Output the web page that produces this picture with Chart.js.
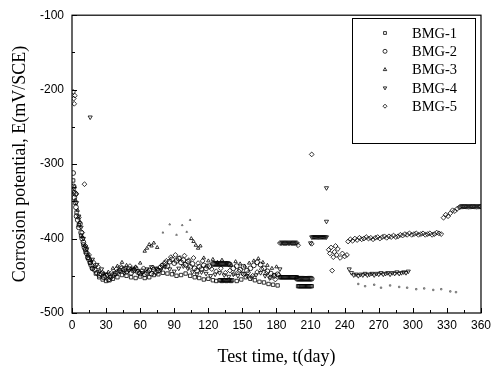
<!DOCTYPE html>
<html>
<head>
<meta charset="utf-8">
<script src="https://cdn.jsdelivr.net/npm/chart.js"></script>
<style>
  body { margin: 0; background: #fff; }
  #chart { display: block; }
</style>
</head>
<body>
<canvas id="chart" width="496" height="374"></canvas>
<script>
// series: [day, potential mV]
const seriesNames = ['BMG-1', 'BMG-2', 'BMG-3', 'BMG-4', 'BMG-5'];

const bmg1 = [
  [1,-322],[2,-338],[3,-352],[4,-365],[6,-382],[8,-396],[10,-408],[12,-418],[14,-426],[16,-433],[18,-440],[21,-447],[24,-452],[27,-455],[30,-457],[33,-456],[36,-454],[40,-452],[44,-449],[48,-450],[52,-452],[56,-453],[60,-451],[64,-453],[68,-452],[72,-449],[76,-448],[80,-446],[84,-447],[88,-448],[92,-450],[96,-449],[100,-447],[104,-450],[108,-452],[112,-453],[116,-455],[120,-454],[124,-456],[127,-457],
  [130,-456],[131,-456],[132,-457],[133,-456],[134,-456],[135,-456],[136,-457],[137,-456],[138,-456],[139,-456],[140,-457],[141,-456],
  [145,-457],[149,-455],[153,-452],[157,-454],[161,-456],[165,-458],[169,-459],[173,-461],[177,-462],[181,-463],
  [183,-452],[184,-452],[185,-452],[186,-452],[187,-452],[188,-452],[189,-452],[190,-452],[191,-452],[192,-452],[193,-452],[194,-452],[195,-452],[196,-452],[197,-452],[198,-452],
  [199,-464],[200,-464],[201,-464],[202,-464],[203,-464],[204,-464],[205,-464],[206,-464],[207,-464],[208,-464],[209,-464],[210,-464],[211,-464],
  [252,-461],[258,-464],[266,-462],[272,-466],[280,-463],[288,-465],[295,-466],[303,-468],[310,-467],[318,-469],[325,-468],[333,-471],[338,-472]
];

const bmg2 = [
  [1,-312],[1.5,-330],[2,-345],[3,-340],[3.5,-358],[4,-370],[5,-375],[6,-385],[7,-380],[8,-392],[9,-400],[10,-405],[11,-412],[12,-415],[13,-420],[14,-425],[15,-428],[16,-432],[17,-436],[18,-440],[20,-442],[22,-446],[24,-449],[26,-448],[28,-452],[30,-450],[32,-455],[34,-452],[36,-449],[38,-447],[40,-445],[42,-443],[44,-440],[46,-442],[48,-444],[50,-441],[52,-446],[54,-443],[56,-440],[58,-445],[60,-447],[62,-444],[64,-448],[66,-446],[68,-443],[70,-447],[72,-442],[74,-445],[76,-443],[78,-439],[80,-436],[82,-433],[84,-437],[86,-431],[88,-428],[90,-433],[92,-430],[94,-427],[96,-432],[98,-429],[100,-435],[102,-431],[104,-438],[106,-434],[108,-440],[110,-443],[112,-438],[114,-441],[116,-436],[118,-440],[121,-437],
  [124,-434],[125,-434],[126,-434],[127,-434],[128,-434],[129,-434],[130,-434],[131,-434],[132,-434],[133,-434],[134,-434],[135,-434],[136,-434],[137,-434],[138,-434],[139,-435],
  [142,-440],[145,-437],[148,-442],[151,-438],[154,-443],[157,-440],[160,-436],[163,-432],[166,-435],[169,-440],[172,-444],[175,-447],[178,-450],[181,-448],
  [198,-454],[199,-454],[200,-454],[201,-454],[202,-454],[203,-454],[204,-454],[205,-454],[206,-454],[207,-454],[208,-454],[209,-454],[210,-454],[211,-454]
];

const bmg3 = [
  [2,-330],[3,-348],[5,-362],[7,-378],[9,-398],[11,-410],[14,-422],[17,-430],[20,-438],[24,-444],[28,-447],[32,-445],[36,-440],[40,-437],[44,-432],[48,-436],[52,-440],[56,-438],[60,-433],[64,-417],[66,-413],[68,-408],[70,-410],[72,-406],[75,-412],[80,-392],[86,-381],[92,-395],[97,-382],[101,-391],[104,-375],[105,-400],[107,-404],[109,-409],[111,-413],[113,-410],[116,-426],[120,-430],[124,-428],[128,-432],[132,-429],[136,-433],[140,-436],[144,-431],[148,-434],[152,-437],[156,-433],[160,-430],[164,-427],[168,-432],[172,-436],[176,-440],[180,-438]
];

const bmg4 = [
  [2,-333],[4,-352],[6,-370],[8,-385],[10,-400],[13,-414],[16,-237],[18,-428],[22,-435],[26,-441],[30,-448],[34,-451],[38,-448],[42,-444],[46,-446],[50,-443],[54,-441],[58,-443],[62,-446],[66,-441],[70,-438],[74,-440],[78,-442],[82,-438],[86,-441],[90,-444],[94,-440],[98,-437],[102,-440],[106,-445],[110,-448],[114,-445],[118,-447],[122,-450],[126,-448],[130,-446],[134,-449],[138,-451],[142,-448],[146,-450],[150,-447],[154,-450],[158,-452],[162,-449],[166,-446],[170,-450],[174,-453],[178,-449],[183,-441],
  [210,-406],[211,-398],[212,-398],[213,-398],[214,-398],[215,-398],[216,-398],[217,-398],[218,-398],[219,-398],[220,-398],[221,-398],[222,-398],[223,-398],[224,-398],
  [224,-377],[224,-332],[244,-441],
  [246,-446],[248,-449],[250,-448],[252,-450],[254,-448],[256,-449],[258,-447],[260,-449],[262,-448],[264,-447],[266,-449],[268,-447],[270,-448],[272,-446],[274,-448],[276,-447],[278,-446],[280,-448],[282,-446],[284,-447],[286,-445],[288,-447],[290,-446],[292,-445],[294,-446],[296,-444]
];

const bmg5 = [
  [1,-203],[1.5,-212],[2,-219],[2.5,-208],[11,-327],[4,-340],[6,-372],[9,-392],[12,-410],[15,-422],[19,-432],[23,-438],[27,-446],[31,-449],[35,-446],[39,-441],[43,-438],[47,-440],[51,-437],[55,-442],[59,-446],[63,-440],[67,-444],[71,-439],[75,-441],[79,-436],[83,-430],[87,-425],[91,-422],[95,-426],[99,-423],[103,-429],[107,-426],[111,-433],[115,-430],[119,-437],[123,-441],[127,-444],[131,-440],[135,-446],[139,-443],[143,-447],[147,-444],[151,-448],[155,-446],[159,-450],[163,-445],[167,-441],[171,-447],[175,-452],[179,-455],[182,-449],
  [183,-406],[184,-406],[185,-406],[186,-406],[187,-406],[188,-406],[189,-406],[190,-406],[191,-406],[192,-406],[193,-406],[194,-406],[195,-406],[196,-406],[197,-406],[198,-406],[199,-409],
  [211,-287],[211,-407],
  [226,-415],[227,-420],[228,-412],[229,-443],[230,-425],[231,-418],[232,-410],[233,-422],[234,-414],[236,-426],[238,-420],[240,-424],[242,-422],
  [243,-404],[245,-401],[247,-403],[249,-400],[251,-402],[253,-399],[255,-401],[257,-400],[259,-398],[261,-400],[263,-399],[265,-401],[267,-399],[269,-398],[271,-400],[273,-398],[275,-397],[277,-399],[279,-397],[281,-398],[283,-396],[285,-398],[287,-397],[289,-395],[291,-396],[293,-394],[295,-395],[297,-393],[299,-395],[301,-394],[303,-393],[305,-395],[307,-394],[309,-393],[311,-395],[313,-394],[315,-393],[317,-395],[319,-394],[321,-392],[323,-393],[325,-394],
  [327,-372],[329,-368],[331,-370],[333,-366],[335,-362],[337,-363],[339,-360],[341,-358],
  [342,-357],[343,-357],[344,-357],[345,-357],[346,-357],[347,-357],[348,-357],[349,-357],[350,-357],[351,-357],[352,-357],[353,-357],[354,-357],[355,-357],[356,-357],[357,-357],[358,-357],[359,-357],[360,-357]
];

const xTicks = [0, 30, 60, 90, 120, 150, 180, 210, 240, 270, 300, 330, 360];
const yTicks = [-500, -400, -300, -200, -100];

const allSeries = [bmg1, bmg2, bmg3, bmg4, bmg5];
const styles = [
  { pointStyle: 'rect', rotation: 0 },
  { pointStyle: 'circle', rotation: 0 },
  { pointStyle: 'triangle', rotation: 0 },
  { pointStyle: 'triangle', rotation: 180 },
  { pointStyle: 'rectRot', rotation: 0 }
];

// the late BMG-1 readings and the BMG-3 outliers print as faint specks
function faint(ctx) {
  const i = ctx.datasetIndex, r = ctx.raw;
  if (!r) return false;
  if (i === 0 && r.x > 240) return true;
  if (i === 2 && r.x >= 78 && r.x <= 104 && r.y > -400) return true;
  return false;
}

const datasets = allSeries.map((s, i) => ({
  label: seriesNames[i],
  data: s.map(p => ({ x: p[0], y: p[1] })),
  pointStyle: styles[i].pointStyle,
  rotation: styles[i].rotation,
  pointRadius: ctx => faint(ctx) ? 1 : (i === 2 ? 2 : 2.4),
  borderWidth: 0.8,
  borderColor: ctx => faint(ctx) ? '#555' : '#000',
  backgroundColor: 'rgba(0,0,0,0)',
  showLine: false
}));

// inward ticks, frame and the boxed legend
const framePlugin = {
  id: 'frame',
  afterDraw(chart) {
    const ctx = chart.ctx;
    const a = chart.chartArea;
    const xs = chart.scales.x, ys = chart.scales.y;
    ctx.save();
    ctx.strokeStyle = '#000';
    ctx.lineWidth = 1.2;
    ctx.strokeRect(a.left, a.top, a.right - a.left, a.bottom - a.top);
    ctx.lineWidth = 1;
    ctx.beginPath();
    for (let v = 0; v <= 360; v += 15) {
      const px = Math.round(xs.getPixelForValue(v)) + 0.5;
      const len = xTicks.includes(v) ? 5 : 3;
      ctx.moveTo(px, a.bottom);
      ctx.lineTo(px, a.bottom - len);
    }
    for (let v = -500; v <= -100; v += 50) {
      const py = Math.round(ys.getPixelForValue(v)) + 0.5;
      const len = yTicks.includes(v) ? 5 : 3;
      ctx.moveTo(a.left, py);
      ctx.lineTo(a.left + len, py);
    }
    ctx.stroke();

    // legend box
    const bx = 352, by = 18, bw = 123, bh = 125;
    ctx.fillStyle = '#fff';
    ctx.fillRect(bx, by, bw, bh);
    ctx.strokeRect(bx + 0.5, by + 0.5, bw, bh);
    ctx.font = '14.5px "Liberation Serif", "Times New Roman", serif';
    ctx.textBaseline = 'middle';
    seriesNames.forEach((name, i) => {
      const y = 33 + i * 18.3;
      ctx.fillStyle = '#fff';
      ctx.strokeStyle = '#000';
      ctx.lineWidth = 0.8;
      Chart.helpers.drawPoint(ctx, {
        pointStyle: styles[i].pointStyle,
        rotation: styles[i].rotation,
        radius: 2,
        borderWidth: 0.8
      }, 385, y);
      ctx.fillStyle = '#000';
      ctx.fillText(name, 412, y + 1);
    });
    ctx.restore();
  }
};

new Chart(document.getElementById('chart'), {
  type: 'scatter',
  data: { datasets: datasets },
  options: {
    responsive: false,
    animation: false,
    layout: { padding: { top: 10, right: 14, left: 0, bottom: 0 } },
    plugins: {
      legend: { display: false },
      tooltip: { enabled: false }
    },
    scales: {
      x: {
        type: 'linear',
        min: 0,
        max: 360,
        afterFit(scale) { scale.height = 61; },
        grid: { display: false, drawTicks: false },
        border: { display: false },
        ticks: {
          stepSize: 30,
          autoSkip: false,
          maxRotation: 0,
          padding: 5,
          color: '#000',
          font: { family: '"Liberation Sans", Arial, sans-serif', size: 12 }
        },
        title: {
          display: true,
          text: 'Test time, t(day)',
          color: '#000',
          padding: { top: 0, bottom: 6 },
          font: { family: '"Liberation Serif", "Times New Roman", serif', size: 18 }
        }
      },
      y: {
        type: 'linear',
        min: -500,
        max: -100,
        afterFit(scale) { scale.width = 72; },
        grid: { display: false, drawTicks: false },
        border: { display: false },
        ticks: {
          stepSize: 100,
          padding: 8,
          color: '#000',
          font: { family: '"Liberation Sans", Arial, sans-serif', size: 12 }
        },
        title: {
          display: true,
          text: 'Corrosion potential, E(mV/SCE)',
          color: '#000',
          padding: { top: 9, bottom: 0 },
          font: { family: '"Liberation Serif", "Times New Roman", serif', size: 18 }
        }
      }
    }
  },
  plugins: [framePlugin]
});
</script>
</body>
</html>
